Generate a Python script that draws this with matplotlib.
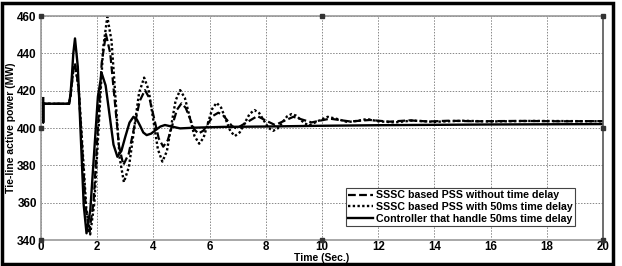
import numpy as np
import matplotlib
matplotlib.use('Agg')
import matplotlib.pyplot as plt
from matplotlib.patches import Rectangle

plt.rcParams['font.family'] = ['Liberation Sans', 'DejaVu Sans']

# time (s) and tie-line power (MW)
t_ctrl = [0.08, 0.08, 0.08, 1.0, 1.05, 1.1, 1.15, 1.21, 1.31, 1.415, 1.52, 1.62,
          1.755, 1.89, 2.025, 2.16, 2.3, 2.44, 2.58, 2.72, 2.86, 3.0, 3.15, 3.29,
          3.41, 3.53, 3.64, 3.76, 3.92, 4.08, 4.25, 4.41, 4.68, 4.95, 5.5, 6.5,
          8, 10, 12, 14, 16, 18, 20]
p_ctrl = [416, 403, 413, 413, 418, 428, 440, 448, 432.8, 395.8, 358.8, 343.6,
          356.1, 386.5, 416.8, 429.3, 422.8, 407, 391.1, 384.6, 387.7, 395.3, 402.9, 406,
          404.6, 401.1, 397.6, 396.2, 397, 398.9, 400.8, 401.6, 400.7, 399.8, 400.2, 400.6,
          400.8, 401.2, 401.5, 401.7, 401.9, 402.0, 402.1]

t_nodelay = [0.08, 1.0, 1.05, 1.1, 1.15, 1.21, 1.34, 1.465, 1.59, 1.72, 1.87, 2.015,
             2.16, 2.31, 2.465, 2.62, 2.775, 2.93, 3.12, 3.315, 3.51, 3.7, 3.86, 4.025,
             4.19, 4.35, 4.51, 4.675, 4.84, 5.0, 5.15, 5.3, 5.45, 5.6, 5.78, 5.955,
             6.13, 6.31, 6.47, 6.635, 6.8, 6.96, 7.33, 7.7, 8.0, 8.33, 8.65, 8.98,
             9.3, 9.63, 9.95, 10.28, 11, 11.7, 12.4, 13.1, 13.8, 14.5, 15.5, 17,
             18.5, 20]
p_nodelay = [413, 413, 417, 424, 431, 434.6, 421.4, 389.6, 357.7, 344.5, 360, 397.4,
             434.8, 450.3, 440, 415.3, 390.5, 380.2, 386.1, 400.3, 414.4, 420.3, 415.9, 405.2,
             394.4, 390, 393.4, 401.6, 409.8, 413.2, 410.8, 405.1, 399.4, 397, 398.6, 402.6,
             406.6, 408.2, 407, 404, 401, 399.8, 403.1, 406.4, 404, 401.6, 403.8, 406,
             404.5, 403, 404, 405, 403.5, 404.3, 403.4, 404.1, 403.5, 403.9, 403.6, 403.8,
             403.6, 403.7]

t_delay = [0.08, 1.0, 1.05, 1.1, 1.15, 1.21, 1.345, 1.48, 1.615, 1.75, 1.9, 2.055,
           2.21, 2.36, 2.51, 2.655, 2.8, 2.95, 3.13, 3.31, 3.49, 3.67, 3.83, 3.995,
           4.16, 4.32, 4.48, 4.635, 4.79, 4.95, 5.12, 5.29, 5.46, 5.63, 5.785, 5.94,
           6.095, 6.25, 6.41, 6.575, 6.74, 6.9, 7.075, 7.25, 7.425, 7.6, 7.765, 7.93,
           8.095, 8.26, 8.425, 8.59, 8.755, 8.92, 9.08, 9.235, 9.39, 9.55, 9.87, 10.2,
           10.55, 10.9, 11.25, 11.6, 12.0, 12.6, 13.2, 14, 15, 16, 17.5, 20]
p_delay = [413, 413, 417, 424, 431, 434, 420.7, 388.5, 356.3, 343, 360, 401.3,
           442.6, 459.6, 446.7, 415.3, 383.9, 371, 379.2, 399, 418.8, 427, 420.4, 404.5,
           388.6, 382, 387.6, 401.2, 414.7, 420.3, 416.1, 406, 395.8, 391.6, 394.8, 402.6,
           410.3, 413.5, 410.9, 404.6, 398.3, 395.7, 397.7, 402.7, 407.6, 409.6, 408, 404,
           400.1, 398.5, 399.8, 403, 406.2, 407.5, 406.6, 404.5, 402.4, 401.5, 403.8, 406,
           404.8, 403.2, 403.8, 404.8, 403.6, 403, 404, 403.3, 403.9, 403.5, 403.8, 403.6]

labels = ['SSSC based PSS without time delay',
          'SSSC based PSS with 50ms time delay',
          'Controller that handle 50ms time delay']

x_ticks = np.arange(0, 21, 2)
y_ticks = np.arange(340, 461, 20)
# little square marks matlab left on some tick positions
mark_x = [0, 0, 0, 10, 20, 10, 20, 20]
mark_y = [460, 400, 340, 340, 340, 460, 460, 400]

fig = plt.figure(figsize=(6.22, 2.66), dpi=100)
ax = fig.add_axes([0.0659, 0.0977, 0.9036, 0.8421])

ax.plot(t_nodelay, p_nodelay, color='black', lw=1.6, linestyle=(0, (3.5, 1.5)), label=labels[0])
ax.plot(t_delay, p_delay, color='black', lw=1.7, linestyle=(0, (1, 1)), label=labels[1])
ax.plot(t_ctrl, p_ctrl, color='black', lw=1.7, label=labels[2])
ax.plot(mark_x, mark_y, 's', color='#333333', ms=2.5, clip_on=False, zorder=5)

ax.set_xlim(0, 20)
ax.set_ylim(340, 460)
ax.set_xticks(x_ticks)
ax.set_yticks(y_ticks)
ax.grid(True, color='#888888', linestyle=(0, (1.5, 1.5)), lw=0.7)
ax.tick_params(axis='x', length=0, pad=1, labelsize=8.3)
ax.tick_params(axis='y', length=0, pad=3, labelsize=8.5)
for lab in ax.get_xticklabels() + ax.get_yticklabels():
    lab.set_fontweight('bold')
for sp in ax.spines.values():
    sp.set_color('#999999')
    sp.set_linewidth(1.2)
ax.spines['right'].set_color('#555555')

ax.set_xlabel('Time (Sec.)', fontsize=7.5, fontweight='bold', labelpad=0)
ax.set_ylabel('Tie-line active power (MW)', fontsize=7.5, fontweight='bold', labelpad=1)

leg = ax.legend(loc='lower right', bbox_to_anchor=(0.959, 0.04), fancybox=False,
                framealpha=1, edgecolor='#444444', handlelength=2.3, handletextpad=0.3,
                borderpad=0.2, labelspacing=0.15, prop={'weight': 'bold', 'size': 7.7})
leg.get_frame().set_linewidth(0.8)

# black frame around the whole picture
fig.patches.append(Rectangle((0.003, 0.008), 0.982, 0.979, transform=fig.transFigure,
                             fill=False, edgecolor='black', lw=2.5))

plt.savefig('out.png', dpi=100)
